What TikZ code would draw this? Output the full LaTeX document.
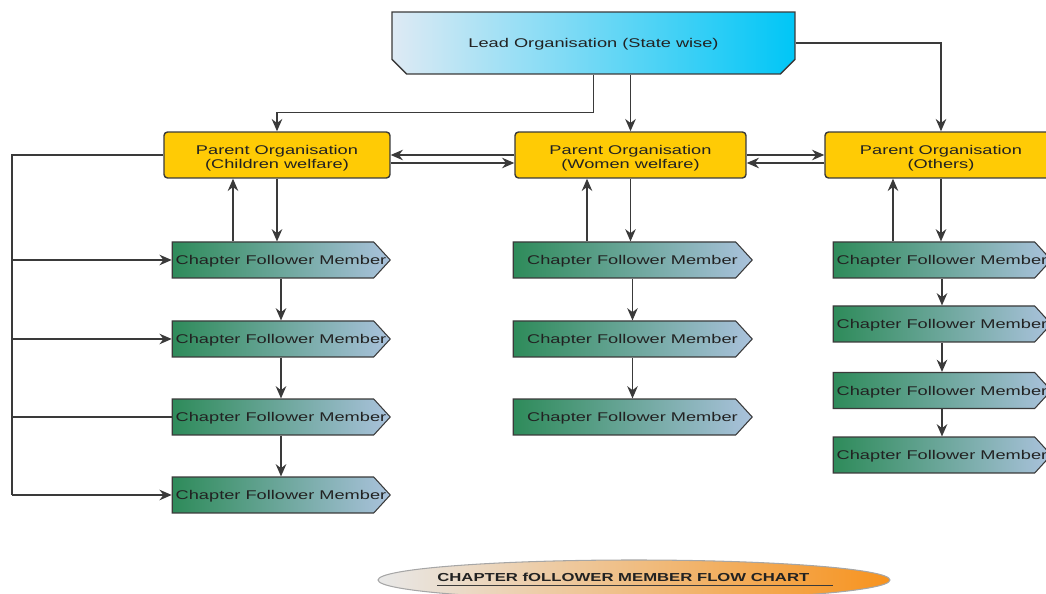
\documentclass[tikz,border=0pt]{standalone}
\usepackage{fontspec}
\setmainfont{Liberation Sans}[FakeStretch=1.44]
\usetikzlibrary{
  shapes.misc,
  shapes.symbols,
  shapes.geometric,
  arrows.meta,
  positioning,
  calc
}

\definecolor{lineC}{HTML}{3A3A3A}
\definecolor{textC}{HTML}{222222}
\definecolor{leadL}{HTML}{DEEAF4}
\definecolor{leadR}{HTML}{00C6F6}
\definecolor{parentC}{HTML}{FFCB05}
\definecolor{chapL}{HTML}{2E8B5A}
\definecolor{chapR}{HTML}{AAC2DC}
\definecolor{titleL}{HTML}{E8E8E8}
\definecolor{titleR}{HTML}{F7931E}

\tikzset{
  lead/.style={chamfered rectangle, chamfered rectangle corners={south west,south east},
    chamfered rectangle xsep=0.3cm, chamfered rectangle ysep=0.2cm,
    draw=lineC, line width=0.8pt, left color=leadL, right color=leadR,
    minimum width=8.06cm, minimum height=1.24cm, inner sep=0, text depth=0pt},
  parent/.style={rectangle, rounded corners=2pt, draw=lineC, line width=0.8pt,
    fill=parentC, minimum height=0.92cm, inner sep=0,
    label={[align=center, yshift=-0.06cm]center:#1}},
  chapter/.style={signal, signal to=east, signal pointer angle=95,
    draw=lineC, line width=0.6pt, left color=chapL, right color=chapR,
    minimum width=4.36cm, minimum height=0.72cm, inner sep=0,
    label={[xshift=0.16cm, text depth=0pt]center:Chapter Follower Member}},
  banner/.style={ellipse, draw=gray!70, line width=0.6pt,
    left color=titleL, right color=titleR,
    minimum width=10.24cm, minimum height=0.8cm, inner sep=0},
  link/.style={draw=lineC, line width=0.8pt},
  arr/.style={link, -{Stealth[length=7pt,width=6pt]}}
}

\begin{document}
\begin{tikzpicture}[x=0.02cm, y=-0.02cm, text=textC,
    font=\fontsize{7.2}{7.8}\selectfont]
  \clip (0,0) rectangle (1046,594);

  % organisations
  \node[lead] (lead) at (593.5,43) {Lead Organisation (State wise)};
  \node[parent={Parent Organisation\\(Children welfare)}, minimum width=4.52cm] (cwp) at (277,155) {};
  \node[parent={Parent Organisation\\(Women welfare)}, minimum width=4.62cm] (wwp) at (630.5,155) {};
  \node[parent={Parent Organisation\\(Others)}, minimum width=4.64cm] (owp) at (941,155) {};

  % chapter followers (signal centre sits 8 units left of the tip midpoint)
  \foreach \i/\y in {1/260,2/339,3/417,4/495}
    \node[chapter] (cc\i) at (273,\y) {};
  \foreach \i/\y in {1/260,2/339,3/417}
    \node[chapter, minimum width=4.78cm] (wc\i) at (624.5,\y) {};
  \foreach \i/\y in {1/260,2/324,3/390.5,4/455}
    \node[chapter] (oc\i) at (934,\y) {};

  % title
  \node[banner] (ttl) at (634,580) {};
  \node[font=\bfseries\fontsize{6.6}{7}\selectfont, inner sep=0, anchor=base west]
    (ttlt) at (437,582) {CHAPTER fOLLOWER MEMBER FLOW CHART};
  \draw[lineC, line width=0.6pt] ([yshift=-2pt]ttlt.base west) -- ++(396,0);

  % lead to parents
  \draw[arr] (lead.south) -- ++(0,38) -| (cwp.north);
  \draw[arr] (lead.south -| wwp.north) -- (wwp.north);
  \draw[arr] (lead.east) -| (owp.north);

  % between parents
  \draw[arr] (wwp.west) -- (cwp.east);
  \draw[arr] ([yshift=-0.16cm]cwp.east) -- ([yshift=-0.16cm]wwp.west);
  \draw[arr] (wwp.east) -- (owp.west);
  \draw[arr] ([yshift=-0.16cm]owp.west) -- ([yshift=-0.16cm]wwp.east);

  % parents and first chapters
  \coordinate (cup) at ([xshift=-0.88cm]cwp.south);
  \coordinate (wup) at ([xshift=-0.87cm]wwp.south);
  \coordinate (oup) at ([xshift=-0.96cm]owp.south);
  \draw[arr] (cup |- cc1.north) -- (cup);
  \draw[arr] (wup |- wc1.north) -- (wup);
  \draw[arr] (oup |- oc1.north) -- (oup);
  \draw[arr] (cwp.south) -- (cwp.south |- cc1.north);
  \draw[arr] (wwp.south) -- (wwp.south |- wc1.north);
  \draw[arr] (owp.south) -- (owp.south |- oc1.north);

  % chapter chains
  \foreach \a/\b in {1/2,2/3,3/4} {
    \draw[arr] ([xshift=0.16cm]cc\a.south) -- ([xshift=0.16cm]cc\b.north);
    \draw[arr] ([xshift=0.16cm]oc\a.south) -- ([xshift=0.16cm]oc\b.north);
  }
  \foreach \a/\b in {1/2,2/3}
    \draw[arr] ([xshift=0.16cm]wc\a.south) -- ([xshift=0.16cm]wc\b.north);

  % left bus
  \coordinate (bus) at (12,155);
  \draw[link] (cwp.west) -- (bus) -- (bus |- cc4.west);
  \draw[arr] (bus |- cc1.west) -- (cc1.west);
  \draw[arr] (bus |- cc2.west) -- (cc2.west);
  \draw[link] (bus |- cc3.west) -- (cc3.west);
  \draw[arr] (bus |- cc4.west) -- (cc4.west);
\end{tikzpicture}
\end{document}
